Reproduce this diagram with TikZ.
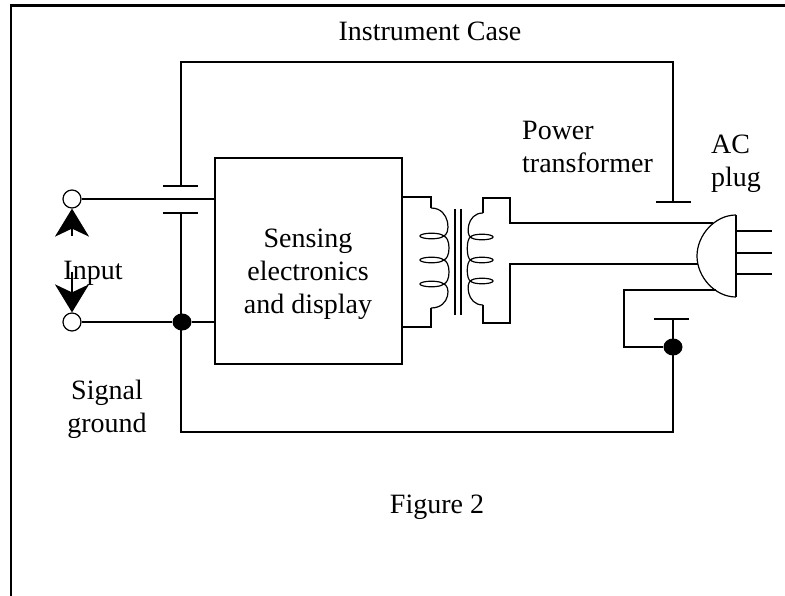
\documentclass[tikz,border=0pt]{standalone}
\usepackage{fontspec}
\setmainfont{Liberation Serif}
\usetikzlibrary{shapes,arrows.meta,positioning,calc}

\tikzset{
  wire/.style={line width=1.2pt},
  frame/.style={line width=2.6pt},
  term/.style={circle, draw, line width=1.2pt, fill=white, minimum size=18pt, inner sep=0pt},
  jdot/.style={ellipse, fill=black, minimum width=19pt, minimum height=17pt, inner sep=0pt},
  lbl/.style={inner sep=0pt, font=\fontsize{28}{33}\selectfont},
  inarrow/.style={line width=1.6pt, -{Stealth[length=28pt,width=34pt,inset=8pt]}}
}

\begin{document}
\begin{tikzpicture}[x=1pt, y=-1pt]
\useasboundingbox (0,0) rectangle (785,596);
\draw[frame] (11,596) -- (11,5.5) -- (785,5.5);

% labels
\node[lbl] (casettl) at (430,31) {Instrument Case};
\node[lbl, align=center] (sensetxt) at (308,274) {Sensing\\electronics\\and display};
\node[lbl] (inlbl) at (93,273) {Input};
\node[lbl, align=center] (gndlbl) at (107,409) {Signal\\ground};
\node[lbl, align=left, anchor=west] (xfmrlbl) at (522,147) {Power\\transformer};
\node[lbl, align=left, anchor=west] (pluglbl) at (711,164) {AC\\plug};
\node[lbl] (figlbl) at (437,507) {Figure 2};

% electronics box
\node[draw, wire, minimum width=187pt, minimum height=206pt, inner sep=0pt] (sense) at (308.5,261) {};

% case with its two capacitors
\coordinate (capA) at (181,186);
\coordinate (capB) at (181,213);
\coordinate (capC) at (673,202);
\coordinate (capD) at (673,319);
\draw[wire] (capA) -- (181,62) -- (673,62) -- (capC);
\draw[wire] (capB) -- (181,432) -- (673,432) -- (capD);
\draw[wire] ($(capA)+(-18,0)$) -- ($(capA)+(17,0)$);
\draw[wire] ($(capB)+(-18,0)$) -- ($(capB)+(17,0)$);
\draw[wire] ($(capC)+(-17,0)$) -- ($(capC)+(18,0)$);
\draw[wire] ($(capD)+(-19,0)$) -- ($(capD)+(16,0)$);

% input terminals
\node[term] (tin) at (72,199) {};
\node[term] (tgnd) at (72,322) {};
\node[jdot] (jgnd) at (182,322) {};
\draw[wire] (tin) -- (tin -| sense.west);
\draw[wire] (tgnd) -- (jgnd) -- (jgnd -| sense.west);
\draw[inarrow] (72,236) -- (tin.south);
\draw[inarrow] (72,272) -- (tgnd.north);

% transformer primary
\coordinate (pri1) at (431,208);
\coordinate (pri2) at (431,308);
\draw[wire] (sense.east |- 0,197) -- (431,197) -- (pri1);
\draw[wire] (sense.east |- 0,327) -- (431,327) -- (pri2);
\draw[wire] (pri1) .. controls (451,208) and (451,236) .. (443,236)
  .. controls (451,236) and (451,260) .. (443,260)
  .. controls (451,260) and (451,284) .. (443,284)
  .. controls (451,284) and (451,308) .. (pri2);
\foreach \yy in {236,260,284}
  \draw[wire] (431.5,\yy) ellipse (11.5pt and 2.8pt);

% core
\draw[wire] (455,209) -- (455,315);
\draw[wire] (461,209) -- (461,315);

% transformer secondary
\coordinate (sec1) at (483,213);
\coordinate (sec2) at (483,305);
\draw[wire] (sec1) .. controls (466,213) and (466,237) .. (471,237)
  .. controls (466,237) and (466,260) .. (471,260)
  .. controls (466,260) and (466,281) .. (471,281)
  .. controls (466,281) and (466,305) .. (sec2);
\foreach \yy in {237,260,281}
  \draw[wire] (482,\yy) ellipse (11pt and 2.8pt);

% plug
\coordinate (plugT) at (736,215);
\coordinate (plugB) at (736,297);
\draw[wire] (plugT) -- (plugB);
\draw[wire] (plugT) .. controls (715,215) and (697,235) .. (697,256)
  .. controls (697,277) and (715,297) .. (plugB);
\foreach \yy in {231,253,274}
  \draw[wire] (736,\yy) -- (772,\yy);
\coordinate (plugL) at (713,223);
\coordinate (plugN) at (698,264);
\coordinate (plugE) at (716,290);

% mains leads
\draw[wire] (sec1) -- (483,198) -- (510,198) -- (510,223) -- (plugL);
\draw[wire] (sec2) -- (483,323) -- (510,323) -- (510,264) -- (plugN);
\node[jdot] (jcase) at (673,347) {};
\draw[wire] (capD) -- (jcase);
\draw[wire] (plugE) -- (624,290) -- (624,347) -- (jcase);
\end{tikzpicture}
\end{document}
